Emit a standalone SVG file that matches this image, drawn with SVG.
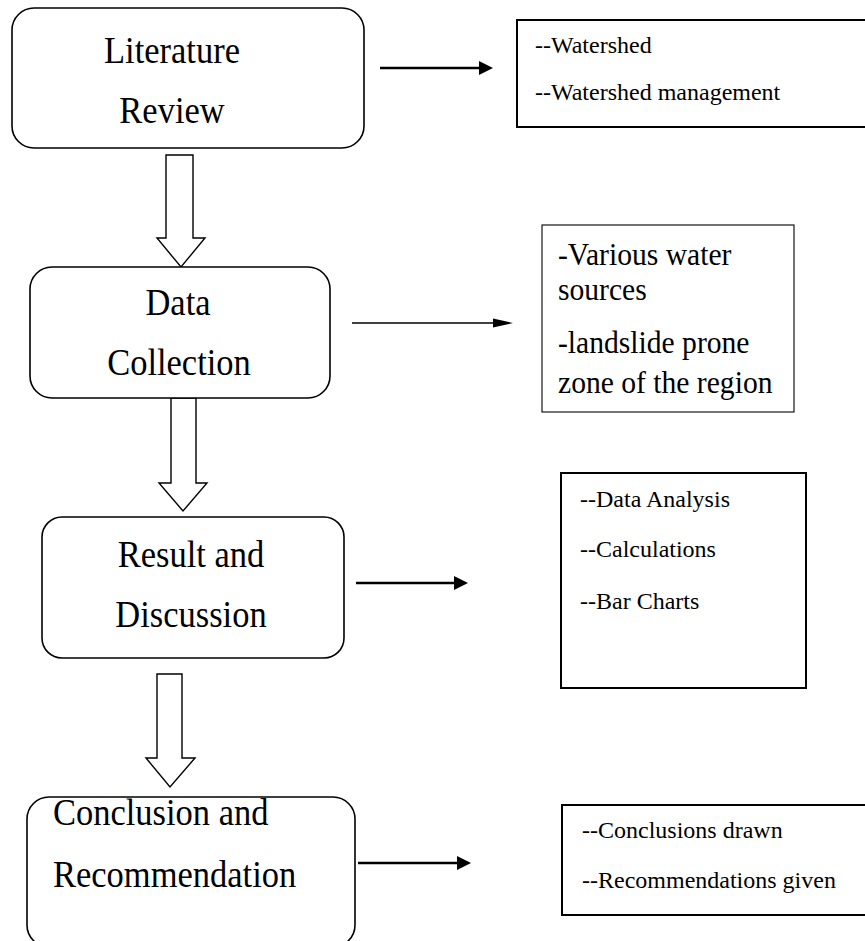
<svg xmlns="http://www.w3.org/2000/svg" width="865" height="941" viewBox="0 0 865 941">
<style>
.node{fill:#fff;stroke:#000;stroke-width:1.6}
.box{fill:#fff;stroke:#000;stroke-width:2}
.thin{fill:#fff;stroke:#000;stroke-width:1.1}
.big{font-family:"Liberation Serif","Times New Roman",serif;font-size:34.5px;fill:#000}
.mid{font-family:"Liberation Serif","Times New Roman",serif;font-size:29.6px;fill:#000}
.small{font-family:"Liberation Serif","Times New Roman",serif;font-size:24px;fill:#000}
.c{text-anchor:middle}
.block{fill:#fff;stroke:#000;stroke-width:1.4;stroke-linejoin:miter}
.arr{stroke:#000;stroke-width:2.6;fill:none}
.arrthin{stroke:#000;stroke-width:1.3;fill:none}
</style>
<defs>
<marker id="hb" markerUnits="userSpaceOnUse" markerWidth="14" markerHeight="16" refX="0" refY="8" orient="auto"><path d="M0,1 L14,8 L0,15 Z" fill="#000"/></marker>
<marker id="hs" markerUnits="userSpaceOnUse" markerWidth="20" markerHeight="10" refX="0" refY="5" orient="auto"><path d="M0,0.5 L20,5 L0,9.5 Z" fill="#000"/></marker>
</defs>

<g id="connectors">
<polygon class="block" points="166,155 193,155 193,238 205,238 181,267 157,238 166,238"/>
<polygon class="block" points="171,398 196,398 196,483 207,483 183,511 159,483 171,483"/>
<polygon class="block" points="157,674 182,674 182,758 195,758 170,787 146,758 157,758"/>
<line class="arr" x1="380" y1="68" x2="479" y2="68" marker-end="url(#hb)"/>
<line class="arrthin" x1="352" y1="323" x2="493" y2="323" marker-end="url(#hs)"/>
<line class="arr" x1="356" y1="583" x2="454" y2="583" marker-end="url(#hb)"/>
<line class="arr" x1="358" y1="863" x2="457" y2="863" marker-end="url(#hb)"/>
</g>

<g id="literature-review">
<rect class="node" x="12" y="8" width="352" height="140" rx="22"/>
<text class="big c" transform="translate(172,63) scale(1,1.1)">Literature</text>
<text class="big c" transform="translate(172,123) scale(1,1.1)">Review</text>
</g>

<g id="data-collection">
<rect class="node" x="30" y="267" width="300" height="131" rx="22"/>
<text class="big c" transform="translate(178,315) scale(1,1.1)">Data</text>
<text class="big c" transform="translate(179,375) scale(1,1.1)">Collection</text>
</g>

<g id="result-discussion">
<rect class="node" x="42" y="517" width="302" height="141" rx="20"/>
<text class="big c" transform="translate(191,567) scale(1,1.1)">Result and</text>
<text class="big c" transform="translate(191,627) scale(1,1.1)">Discussion</text>
</g>

<g id="conclusion-recommendation">
<rect class="node" x="27" y="797" width="328" height="150" rx="22"/>
<text class="big" transform="translate(53,825) scale(1,1.1)">Conclusion and</text>
<text class="big" transform="translate(53,887) scale(1,1.1)">Recommendation</text>
</g>

<g id="lit-notes">
<rect class="box" x="517" y="20" width="352" height="107"/>
<text class="small" x="535" y="53">--Watershed</text>
<text class="small" x="535" y="100">--Watershed management</text>
</g>

<g id="data-notes">
<rect class="thin" x="542" y="225" width="252" height="187"/>
<text class="mid" transform="translate(558,265) scale(1,1.1)">-Various water</text>
<text class="mid" transform="translate(558,300) scale(1,1.1)">sources</text>
<text class="mid" transform="translate(558,353) scale(1,1.1)">-landslide prone</text>
<text class="mid" transform="translate(558,393) scale(1,1.1)">zone of the region</text>
</g>

<g id="result-notes">
<rect class="box" x="561" y="473" width="245" height="215"/>
<text class="small" x="580" y="507">--Data Analysis</text>
<text class="small" x="580" y="557">--Calculations</text>
<text class="small" x="580" y="609">--Bar Charts</text>
</g>

<g id="conclusion-notes">
<rect class="box" x="562" y="805" width="306" height="110"/>
<text class="small" x="582" y="838">--Conclusions drawn</text>
<text class="small" x="582" y="888">--Recommendations given</text>
</g>
</svg>
